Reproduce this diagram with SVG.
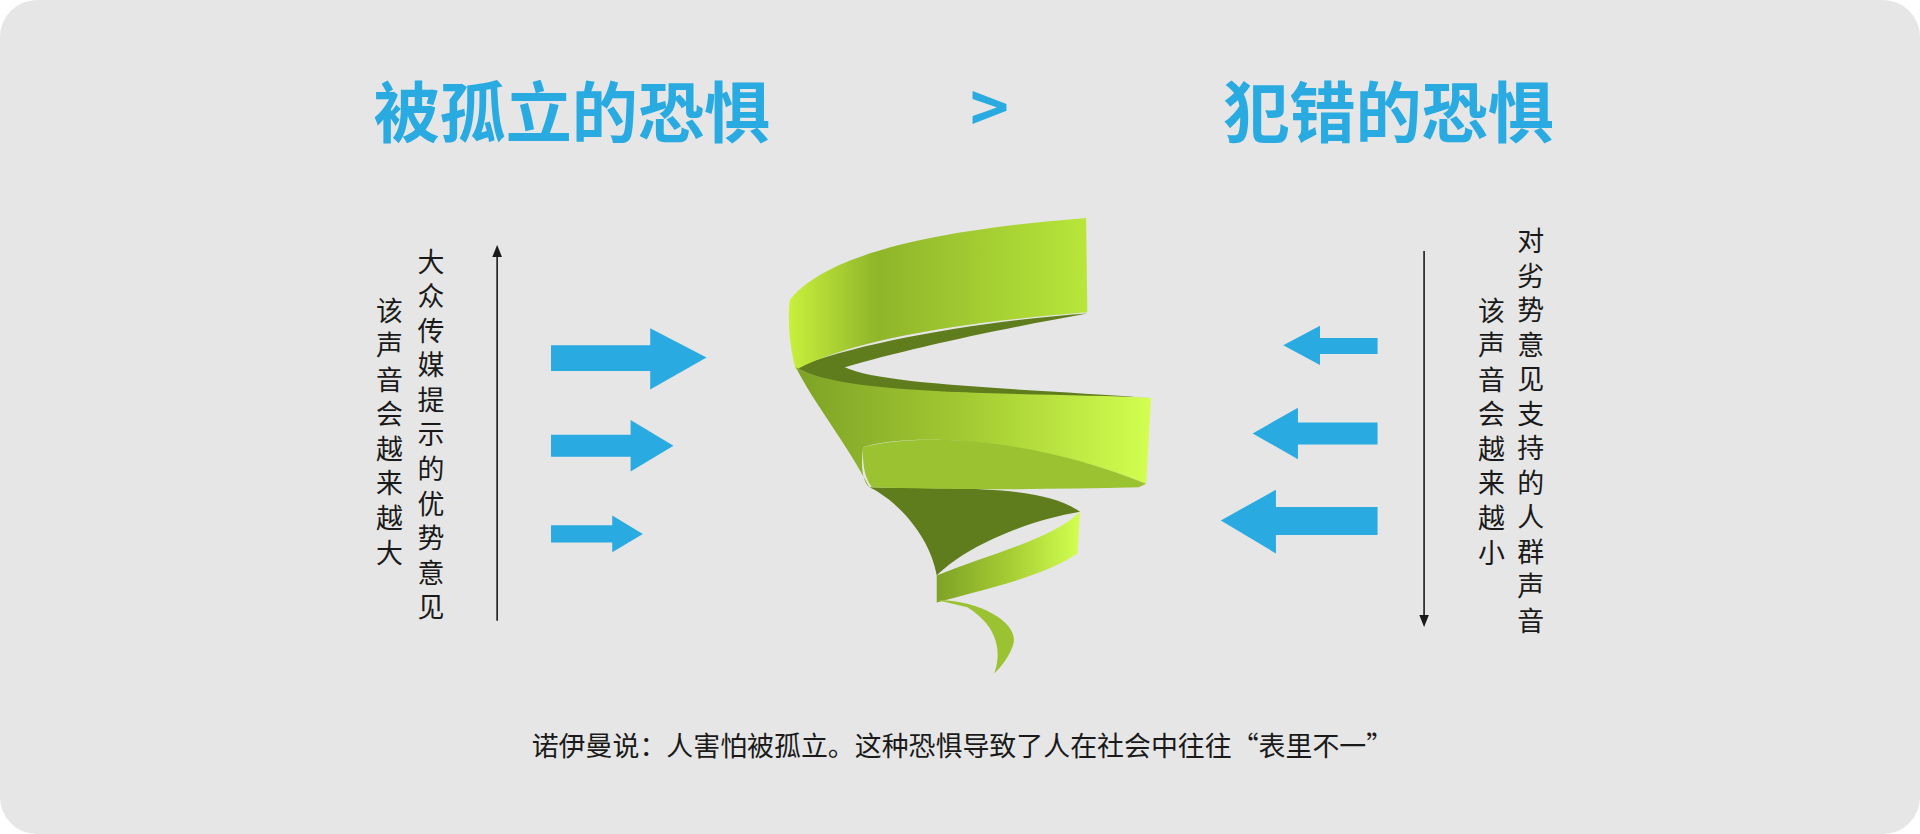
<svg xmlns="http://www.w3.org/2000/svg" width="1920" height="834" viewBox="0 0 1920 834">
<style>
.t{font-family:"Noto Sans CJK SC","Noto Sans",sans-serif;fill:#29abe2;font-weight:bold;font-size:54px}
.v{font-family:"Noto Sans CJK SC","Noto Sans",sans-serif;fill:#1a1a1a;font-size:22px;text-anchor:middle}
.ba{fill:#29abe2}
</style>
<defs>
<marker id="ah" markerWidth="10" markerHeight="10" refX="5" refY="5" orient="auto" markerUnits="userSpaceOnUse"><path d="M0,1 L10,5 L0,9 Z" fill="#1a1a1a"/></marker>
<linearGradient id="g1" x1="0" x2="1" y1="0" y2="0"><stop offset="0" stop-color="#c8f03c"/><stop offset="0.3" stop-color="#8fb52a"/><stop offset="1" stop-color="#b8e63a"/></linearGradient>
<linearGradient id="g2" x1="0" x2="1" y1="0" y2="0"><stop offset="0" stop-color="#7ea226"/><stop offset="0.5" stop-color="#a5cc33"/><stop offset="1" stop-color="#d2ff50"/></linearGradient>
</defs>
<rect x="0" y="0" width="1920" height="834" rx="37" fill="#e6e6e6"/>
<g transform="scale(1.22449)">
<g id="titles">
<text class="t" x="467" y="112" text-anchor="middle">被孤立的恐惧</text>
<text class="t" x="808" y="108" text-anchor="middle" font-size="40">&gt;</text>
<text class="t" x="1134" y="112" text-anchor="middle">犯错的恐惧</text>
</g>
<g id="left-text">
<text class="v"><tspan x="352" y="222">大</tspan><tspan x="352" dy="28.2">众</tspan><tspan x="352" dy="28.2">传</tspan><tspan x="352" dy="28.2">媒</tspan><tspan x="352" dy="28.2">提</tspan><tspan x="352" dy="28.2">示</tspan><tspan x="352" dy="28.2">的</tspan><tspan x="352" dy="28.2">优</tspan><tspan x="352" dy="28.2">势</tspan><tspan x="352" dy="28.2">意</tspan><tspan x="352" dy="28.2">见</tspan></text>
<text class="v"><tspan x="318" y="262">该</tspan><tspan x="318" dy="28.2">声</tspan><tspan x="318" dy="28.2">音</tspan><tspan x="318" dy="28.2">会</tspan><tspan x="318" dy="28.2">越</tspan><tspan x="318" dy="28.2">来</tspan><tspan x="318" dy="28.2">越</tspan><tspan x="318" dy="28.2">大</tspan></text>
</g>
<g id="right-text">
<text class="v"><tspan x="1250" y="205">对</tspan><tspan x="1250" dy="28.2">劣</tspan><tspan x="1250" dy="28.2">势</tspan><tspan x="1250" dy="28.2">意</tspan><tspan x="1250" dy="28.2">见</tspan><tspan x="1250" dy="28.2">支</tspan><tspan x="1250" dy="28.2">持</tspan><tspan x="1250" dy="28.2">的</tspan><tspan x="1250" dy="28.2">人</tspan><tspan x="1250" dy="28.2">群</tspan><tspan x="1250" dy="28.2">声</tspan><tspan x="1250" dy="28.2">音</tspan></text>
<text class="v"><tspan x="1218" y="262">该</tspan><tspan x="1218" dy="28.2">声</tspan><tspan x="1218" dy="28.2">音</tspan><tspan x="1218" dy="28.2">会</tspan><tspan x="1218" dy="28.2">越</tspan><tspan x="1218" dy="28.2">来</tspan><tspan x="1218" dy="28.2">越</tspan><tspan x="1218" dy="28.2">小</tspan></text>
</g>
<g id="connectors">
<line x1="406" y1="507" x2="406" y2="205" stroke="#1a1a1a" stroke-width="1.3" marker-end="url(#ah)"/>
<line x1="1163" y1="205" x2="1163" y2="507" stroke="#1a1a1a" stroke-width="1.3" marker-end="url(#ah)"/>
<path class="ba" d="M450,282 H531 V268 L577,292 L531,318 V303 H450 Z"/>
<path class="ba" d="M450,355 H515 V343 L550,364 L515,385 V373 H450 Z"/>
<path class="ba" d="M450,429 H500 V421 L525,436 L500,451 V443 H450 Z"/>
<path class="ba" d="M1125,276 H1078 V266 L1048,282 L1078,298 V289 H1125 Z"/>
<path class="ba" d="M1125,345 H1060 V333 L1023,354 L1060,375 V363 H1125 Z"/>
<path class="ba" d="M1125,414 H1042 V400 L997,425 L1042,452 V437 H1125 Z"/>
</g>
<g id="spiral">
<path d="M888,256 C800,262 700,280 650,300 C700,330 850,320 940,325 C850,318 720,315 690,300 C740,285 820,268 888,256 Z" fill="#5f7d1c"/>
<path d="M645,245 C680,200 800,185 887,178 L888,255 C800,262 700,275 650,302 C645,285 643,262 645,245 Z" fill="url(#g1)"/>
<path d="M650,300 C690,325 850,320 940,325 L936,395 C850,360 750,352 705,365 C702,385 706,395 710,398 C690,360 665,330 650,300 Z" fill="url(#g2)"/>
<path d="M710,398 C780,400 850,395 882,418 C840,425 790,445 765,470 C760,440 735,410 710,398 Z" fill="#5f7d1c"/>
<path d="M705,365 C760,352 850,360 936,395 L930,398 C850,400 770,400 712,398 C706,390 704,378 705,365 Z" fill="#9bc230"/>
<path d="M765,470 C810,452 860,440 882,418 L880,452 C850,472 800,482 765,492 Z" fill="url(#g2)"/>
<path d="M765,490 C800,490 830,508 828,524 C826,534 818,544 812,550 C818,534 816,512 790,496 Z" fill="#9bc230"/>
</g>
<g id="caption">
<text x="786" y="617" font-family="'Noto Sans CJK SC',sans-serif" font-size="22" fill="#1a1a1a" text-anchor="middle">诺伊曼说：人害怕被孤立。这种恐惧导致了人在社会中往往“表里不一”</text>
</g>
</g>
</svg>
